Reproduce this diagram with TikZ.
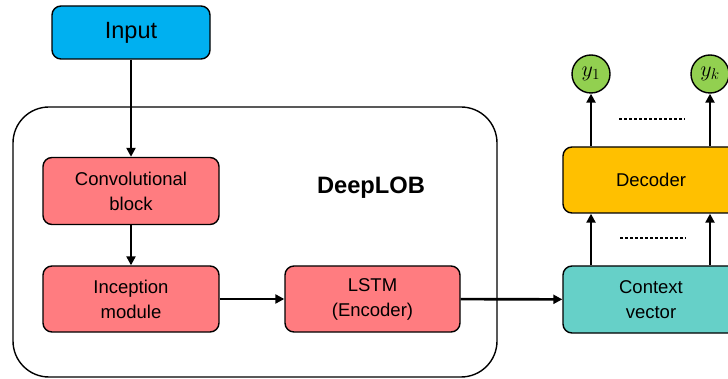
\RequirePackage{fix-cm}
\documentclass[tikz,border=0pt]{standalone}
\usepackage{fontspec}
\setmainfont{Liberation Sans}
\usetikzlibrary{arrows.meta,calc}
\definecolor{inblue}{HTML}{00B0F0}
\definecolor{dlpink}{HTML}{FF7C80}
\definecolor{ctxteal}{HTML}{66D0C8}
\definecolor{decyellow}{HTML}{FFC000}
\definecolor{outgreen}{HTML}{92D050}
\tikzset{
  block/.style={draw, line width=1.4pt, rounded corners=9pt, align=center,
    inner sep=0pt, minimum width=176pt, minimum height=67pt,
    font=\fontsize{18.5}{25}\selectfont},
  outnode/.style={draw, circle, line width=1.4pt, fill=outgreen,
    minimum size=38pt, inner sep=0pt, font=\fontsize{22}{26}\selectfont},
  arr/.style={line width=2.6pt, -{Triangle[length=9pt,width=9pt]}},
  dots/.style={line width=2.5pt, dash pattern=on 2.5pt off 2.5pt}
}
\begin{document}
\begin{tikzpicture}[x=1pt,y=-1pt]
            \useasboundingbox (0,0) rectangle (728,379);
            % DeepLOB frame
            \draw[line width=1.4pt, rounded corners=36pt] (13,107) rectangle (497,377);
            \node[font=\fontsize{23.7}{28}\selectfont\bfseries] (title) at (371,188) {DeepLOB};
            % blocks
            \node[block, fill=inblue, minimum width=158pt, minimum height=53pt,
              font=\fontsize{23.5}{28}\selectfont] (input) at (131,32.5) {Input};
            \node[block, fill=dlpink] (conv) at (131,191) {Convolutional\\block};
            \node[block, fill=dlpink, minimum height=66pt] (incep) at (131,299) {Inception\\module};
            \node[block, fill=dlpink, minimum width=175pt, minimum height=66pt] (lstm) at (372.5,299) {LSTM\\(Encoder)};
            \node[block, fill=ctxteal] (context) at (651,299.5) {Context\\vector};
            \node[block, fill=decyellow, minimum height=66pt] (decoder) at (651,180) {Decoder};
            \node[outnode] (y1) at (591,74) {$y_1$};
            \node[outnode] (yk) at (710,74) {$y_k$};
            % connectors
            \draw[arr] (input) -- (conv);
            \draw[arr] (conv) -- (incep);
            \draw[arr] (incep) -- (lstm);
            \draw[arr] (lstm) -- (context);
            \draw[arr] (context.north -| y1) -- (decoder.south -| y1);
            \draw[arr] (context.north -| yk) -- (decoder.south -| yk);
            \draw[arr] (decoder.north -| y1) -- (y1);
            \draw[arr] (decoder.north -| yk) -- (yk);
            \draw[dots] (620,238) -- (686,238);
            \draw[dots] (619,119) -- (685,119);
\end{tikzpicture}
\end{document}
